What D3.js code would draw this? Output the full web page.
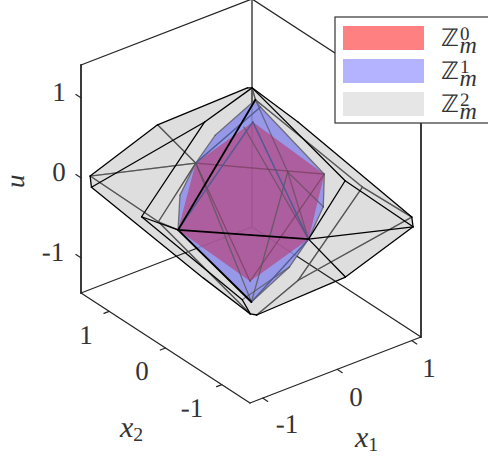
<!DOCTYPE html>
<html><head><meta charset="utf-8">
<script src="https://cdnjs.cloudflare.com/ajax/libs/d3/7.8.5/d3.min.js"></script>
<style>html,body{margin:0;padding:0;background:#fff;overflow:hidden}svg{display:block}
text{font-family:"Liberation Serif","Times New Roman",serif;fill:#333;text-rendering:geometricPrecision}</style></head><body>
<script>
// Values, in data units (x1, x2, u)
const ids = ["A","B","C","D","E","F","G","H","I","J","K","L","M","N","O","P","Q","R","S","T","U","W","Y",
  "z0top","z0bot","z0r","z1a","z1b","z1bot","z1c","z1d","z1e","z1f","z1g"];
const x1Values = [-1.07,-1.06,-0.46,0.36,0.40,0.43,0.76,0.81,0.77,1.16,1.17,0.55,-0.43,-0.47,-0.66,-1.06,-0.88,-0.13,-0.22,-0.82,0.16,0.06,-0.51,
  0.38,-0.36,0.72,-0.11,-0.56,-0.41,-0.05,0.60,0.43,0.29,0.44];
const x2Values = [1.47,1.46,1.08,0.57,0.54,0.52,0.20,-0.57,-0.93,-1.29,-1.30,-0.92,-0.64,-0.58,0.00,0.57,0.51,0.68,0.72,0.24,-0.78,-0.73,-0.49,
  0.50,-0.43,-0.32,0.52,0.55,-0.52,-0.72,-0.46,0.43,0.54,-0.04];
const uValues = [0,-0.14,0.6,1,1,0.85,0.6,0.2,0.3,-0.05,-0.17,-0.75,-1,-1,-0.75,-0.1,-0.2,0.7,0.2,-0.2,-0.2,-0.7,-0.85,
  0.6,-0.7,0.2,0.6,0,-0.9,-0.5,-0.1,0.8,0.55,0.2];

const hullZ2 = ["A","C","D","E","G","J","K","L","M","N","O","B"];
const hullZ1 = ["F","z1a","S","z1b","T","z1bot","z1c","U","z1d","z0r","z1e"];
const hullZ0 = ["z0top","S","T","z0bot","U","z0r"];

const edgesZ0Back = [["S","z0r"],["S","z0bot"],["z0r","z0bot"]];
const edgesZ1 = [["F","z1a"],["z1a","S"],["S","z1b"],["z1b","T"],["z1bot","z1c"],["z1c","U"],["U","z1d"],["z1d","z0r"],["z0r","z1e"],["z1e","F"],
  ["z1bot","S"],["z1bot","z1g"],["Y","z1c"]];
const edgesZ1Blue = [["z0top","T"],["z0top","U"],["z1e","S"],["z1bot","T"],["z1bot","U"]];
const edgesZ2Gray = [["A","S"],["C","S"],["A","Q"],["Q","T"],["Q","S"],["Q","N"],["F","I"],["I","J"],["I","W"],["W","M"],["W","J"],
  ["F","z1g"],["z1g","U"],["z1f","U"],["z1g","z1d"],["E","F"]];
const edgesZ2Black = [["A","C"],["C","D"],["D","E"],["E","G"],["G","J"],["J","K"],["K","L"],["L","M"],["M","N"],["N","O"],["O","B"],["B","A"],
  ["B","R"],["R","E"],["R","P"],["P","T"],["P","Y"],["Y","N"],["E","H"],["H","K"],["H","U"],["U","K"],["U","L"]];
const edgesFrontHeavy = [["T","F"],["T","U"],["T","z1bot"]];

const tickValues = [-1,0,1];
const labelsX1 = [["-1",287,424],["0",356,397],["1",429,368]];
const labelsX2 = [["1",86,335],["0",142,371],["-1",192,408]];
const labelsU = [["1",59,92],["0",59,172],["-1",53,252]];
const legendSets = ["0","1","2"];
const legendColors = ["#ff8080","#b3b3ff","#e6e6e6"];

const x1Dom=[-1.17,1.125], x2Dom=[-1.5,1.5], uDom=[-1.44,1.41];
const x1H=d3.scaleLinear().domain(x1Dom).range([0,171]);
const x1V=d3.scaleLinear().domain(x1Dom).range([0,-66]);
const x2H=d3.scaleLinear().domain(x2Dom).range([0,-169]);
const x2V=d3.scaleLinear().domain(x2Dom).range([0,-110]);
const uV=d3.scaleLinear().domain(uDom).range([0,-228]);
const P=(a,b,c)=>[250+x1H(a)+x2H(b),403+x1V(a)+x2V(b)+uV(c)];
const V=id=>{const i=ids.indexOf(id);return P(x1Values[i],x2Values[i],uValues[i]);};
const line=d3.line();

const svg=d3.select("body").append("svg").attr("width",488).attr("height",457);
const seg=(g,list,col,w,op)=>g.selectAll(null).data(list).join("path")
  .attr("d",d=>line(d)).attr("fill","none").attr("stroke",col).attr("stroke-width",w)
  .attr("stroke-opacity",op===undefined?1:op).attr("stroke-linecap","round").attr("stroke-linejoin","round");

const [a0,b0]=[x1Dom[0],x1Dom[1]], [c0,d0]=[x2Dom[0],x2Dom[1]], [e0,f0]=[uDom[0],uDom[1]];
const box=svg.append("g");
seg(box,[[P(b0,d0,e0),P(a0,d0,e0)],[P(b0,d0,e0),P(b0,c0,e0)],[P(b0,d0,e0),P(b0,d0,f0)]],"#262626",1.3);

const polys=svg.append("g");
const area=(ids_,fill,op)=>polys.append("path").attr("d",line(ids_.map(V))+"Z").attr("fill",fill).attr("fill-opacity",op);
area(hullZ2,"#000",0.13);
seg(polys,edgesZ2Gray.map(e=>e.map(V)),"#555",1.3,0.95);
area(hullZ1,"#8c8ceb",0.85);
seg(polys,edgesZ0Back.map(e=>e.map(V)),"#555",1.2,0.6);
area(hullZ0,"#b83a70",0.62);
seg(polys,edgesZ2Gray.map(e=>e.map(V)),"#505050",1.2,0.55);
seg(polys,edgesZ0Back.map(e=>e.map(V)),"#5a3a55",1.2,0.35);
seg(polys,edgesZ1.map(e=>e.map(V)),"#555",1.3,0.75);
seg(polys,edgesZ1Blue.map(e=>e.map(V)),"#4a5a90",1.5,0.9);
const front=svg.append("g");
seg(front,edgesZ2Black.map(e=>e.map(V)),"#000",1.3);
seg(front,edgesFrontHeavy.map(e=>e.map(V)),"#000",1.8);

const ax=svg.append("g");
seg(ax,[[P(a0,d0,e0),P(a0,d0,f0)]],"#262626",1.8);
seg(ax,[[P(b0,c0,e0),P(b0,c0,f0)]],"#262626",1.8);
seg(ax,[[P(a0,d0,f0),P(b0,d0,f0)],[P(b0,d0,f0),P(b0,c0,f0)],[P(a0,c0,e0),P(a0,d0,e0)],[P(a0,c0,e0),P(b0,c0,e0)]],"#262626",1.3);
seg(ax,tickValues.map(t=>[P(t,c0,e0),P(t,c0-0.09,e0)]),"#262626",1.2);
seg(ax,tickValues.map(t=>[P(a0,t,e0),P(a0-0.07,t,e0)]),"#262626",1.2);
seg(ax,tickValues.map(t=>[P(a0,d0,t),P(a0,d0+0.09,t)]),"#262626",1.2);

svg.append("g").selectAll("text").data([...labelsX1,...labelsX2,...labelsU]).join("text")
  .attr("x",d=>d[1]).attr("y",d=>d[2]+9).attr("text-anchor","middle").attr("font-size",27).text(d=>d[0]);

const mathLabel=(x,y,t,s,size)=>{
  const g=svg.append("text").attr("x",x).attr("y",y).attr("font-size",size);
  g.append("tspan").attr("font-style","italic").text(t);
  g.append("tspan").attr("font-size",size*0.66).attr("dy",4).text(s);
};
mathLabel(120,437,"x","2",30);
mathLabel(355,447,"x","1",30);
svg.append("text").attr("transform","translate(24,188) rotate(-90)").attr("font-size",27)
  .attr("font-style","italic").text("u");

const lg=svg.append("g");
lg.append("rect").attr("x",335).attr("y",17).attr("width",170).attr("height",106).attr("fill","#fff").attr("stroke","#333").attr("stroke-width",1.2);
const rows=d3.scaleBand().domain(legendSets).range([21.5,120.5]);
legendSets.forEach((s,i)=>{
  const y=rows(s);
  lg.append("rect").attr("x",343).attr("y",y+4.5).attr("width",81).attr("height",24).attr("fill",legendColors[i]);
  const t=lg.append("text").attr("x",441).attr("y",y+24);
  t.append("tspan").attr("font-size",24).style("font-family","'DejaVu Sans'").text("ℤ");
  t.append("tspan").attr("font-size",19).attr("dx",1).attr("dy",-6).text(s);
  t.append("tspan").attr("font-size",24).attr("font-style","italic").attr("dx",-10).attr("dy",13).text("m");
});
</script></body></html>
